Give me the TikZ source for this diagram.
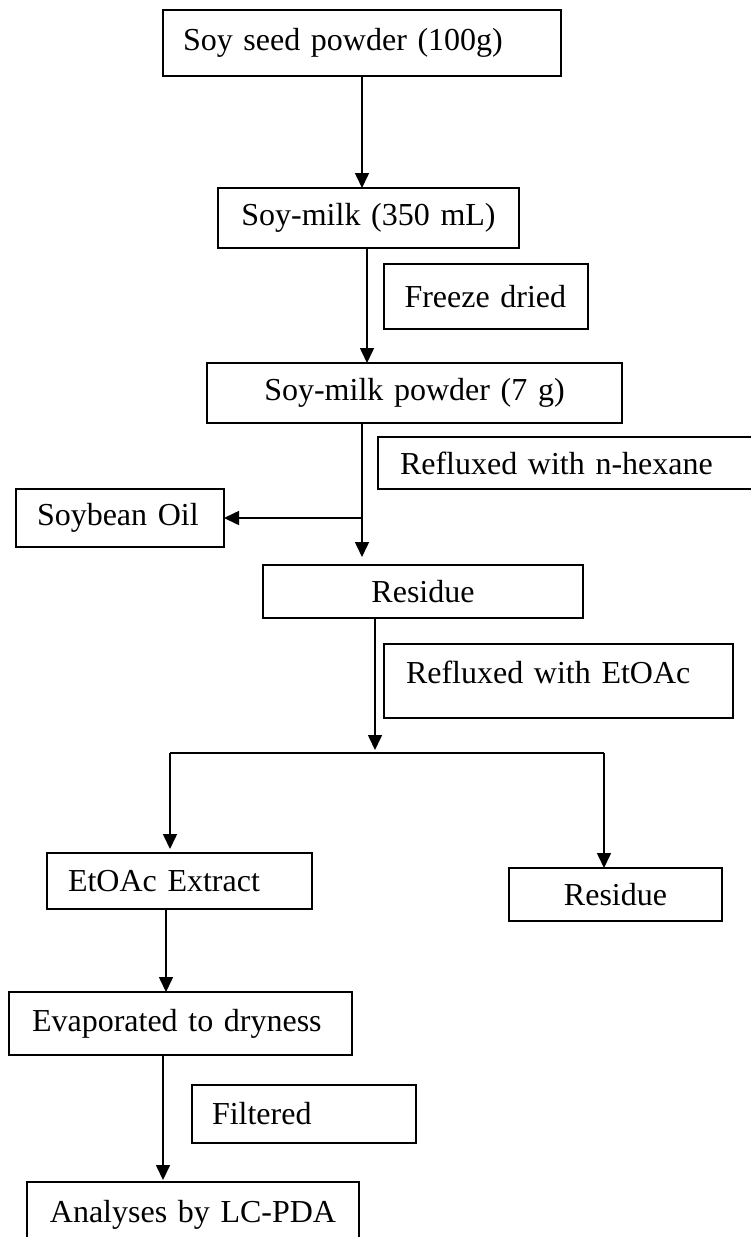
\documentclass[tikz,border=0pt]{standalone}
\usepackage{fontspec}
\setmainfont{Liberation Serif}
\usetikzlibrary{arrows.meta}
\begin{document}
\begin{tikzpicture}[x=1pt,y=-1pt,
  box/.style={draw, line width=1.5pt, rectangle, outer sep=0pt, inner ysep=0pt,
    anchor=north west, font=\fontsize{32}{38}\selectfont},
  lbox/.style={box, align=left},
  cbox/.style={box, align=center, inner xsep=4pt},
  arr/.style={line width=1.6pt, -{Triangle[length=15pt,width=14pt]}},
  ln/.style={line width=1.6pt}]
\useasboundingbox (0,0) rectangle (750,1237);
\fill[white] (0,0) rectangle (750,1237);

\node[lbox, minimum width=398pt, minimum height=66pt, text width=358pt, inner xsep=20pt] (seed) at (163,10) {Soy seed powder (100g)};
\node[cbox, minimum width=301pt, minimum height=60pt, text width=293pt] (milk) at (218,188) {Soy-milk (350 mL)};
\node[lbox, minimum width=204pt, minimum height=65pt, text width=163pt, inner xsep=20.5pt] (freeze) at (384,264) {Freeze dried};
\node[cbox, minimum width=415pt, minimum height=60pt, text width=407pt] (powder) at (207,363) {Soy-milk powder (7 g)};
\node[lbox, minimum width=400pt, minimum height=52pt, text width=356pt, inner xsep=22pt] (hexane) at (378,437) {Refluxed with n-hexane};
\node[lbox, minimum width=208pt, minimum height=58pt, text width=166pt, inner xsep=21pt] (oil) at (16,489) {Soybean Oil};
\node[cbox, minimum width=320pt, minimum height=53pt, text width=312pt] (res1) at (263,565) {Residue};
\node[lbox, minimum width=349pt, minimum height=74pt, text width=305pt, inner xsep=22pt, text depth=18pt] (etoac) at (384,644) {Refluxed with EtOAc};
\node[lbox, minimum width=265pt, minimum height=56pt, text width=223pt, inner xsep=21pt] (extract) at (47,853) {EtOAc Extract};
\node[cbox, minimum width=213pt, minimum height=53pt, text width=205pt] (res2) at (509,868) {Residue};
\node[lbox, minimum width=343pt, minimum height=63pt, text width=297pt, inner xsep=23pt] (evap) at (9,992) {Evaporated to dryness};
\node[lbox, minimum width=224pt, minimum height=58pt, text width=184pt, inner xsep=20pt] (filt) at (192,1085) {Filtered};
\node[cbox, minimum width=332pt, minimum height=65pt, text width=324pt] (anal) at (27,1182) {Analyses by LC-PDA};

% connectors
\draw[arr] (seed.south) -- (seed.south |- milk.north);
\draw[arr] ([xshift=-1.5pt]milk.south) -- ([xshift=-1.5pt]milk.south |- powder.north);

\coordinate (j1) at ([xshift=-52.5pt]powder.south |- oil.east);
\draw[ln] ([xshift=-52.5pt]powder.south) -- (j1);
\draw[arr] (j1) -- (oil.east);
\draw[arr, shorten >=8pt] (j1) -- (j1 |- res1.north);

\coordinate (j2) at ([xshift=-48pt]res1.south);
\coordinate (sM) at (375,753);
\coordinate (sL) at (170,753);
\coordinate (sR) at (604,753);
\draw[arr, shorten >=3pt] (j2) -- (sM);
\draw[ln] (sL) -- (sR);
\draw[arr, shorten >=4pt] (sL) -- (sL |- extract.north);
\draw[arr] (sR) -- (sR |- res2.north);

\draw[arr] ([xshift=-13.5pt]extract.south) -- ([xshift=-13.5pt]extract.south |- evap.north);
\draw[arr, shorten >=2pt] ([xshift=-17.5pt]evap.south) -- ([xshift=-17.5pt]evap.south |- anal.north);
\end{tikzpicture}
\end{document}
